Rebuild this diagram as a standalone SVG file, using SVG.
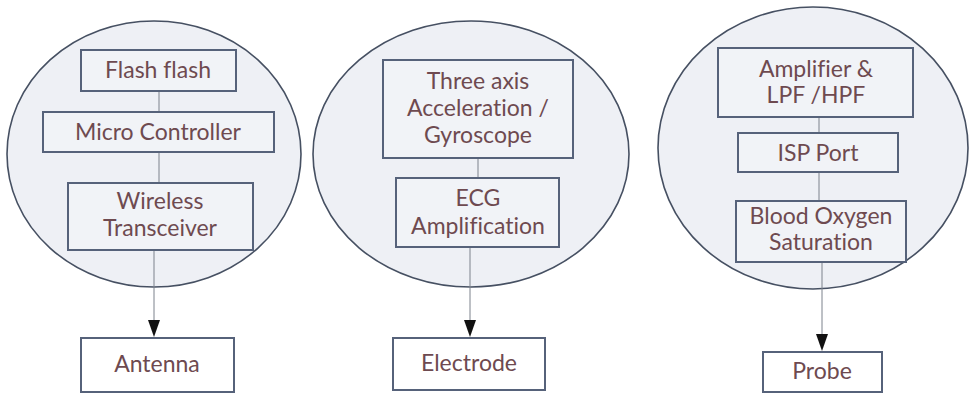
<svg xmlns="http://www.w3.org/2000/svg" width="973" height="395" viewBox="0 0 973 395">
  <style>
    .zone { fill: #eef0f5; stroke: #465062; stroke-width: 1.6; }
    .box { fill: #f1f3f7; stroke: #56627a; stroke-width: 2; }
    .out { fill: #ffffff; stroke: #56627a; stroke-width: 2; }
    .lbl { font-family: Lato, "Open Sans", "Liberation Sans", sans-serif; font-size: 23px; fill: #6e4a50; text-anchor: middle; font-variant-ligatures: none; }
    .link { stroke: #7d828c; stroke-width: 1; fill: none; }
    .head { fill: #111111; }
  </style>

  <rect x="0" y="0" width="973" height="395" fill="#ffffff"/>

  <!-- enclosing module outlines -->
  <ellipse id="module-comm" class="zone" cx="154" cy="154" rx="147" ry="133"/>
  <ellipse id="module-motion" class="zone" cx="471" cy="154" rx="158" ry="133"/>
  <ellipse id="module-oxygen" class="zone" cx="813" cy="148" rx="155" ry="141"/>

  <g id="connectors">
    <line class="link" x1="159" y1="91" x2="159" y2="112"/>
    <line class="link" x1="159" y1="152" x2="159" y2="183"/>
    <line class="link" x1="154" y1="250" x2="154" y2="320"/>
    <path class="head" d="M148,320 L160,320 L154,337 Z"/>
    <line class="link" x1="478" y1="158" x2="478" y2="178"/>
    <line class="link" x1="470" y1="247" x2="470" y2="320"/>
    <path class="head" d="M464,320 L476,320 L470,337 Z"/>
    <line class="link" x1="819" y1="117" x2="819" y2="133"/>
    <line class="link" x1="819" y1="172" x2="819" y2="201"/>
    <line class="link" x1="822" y1="262" x2="822" y2="334"/>
    <path class="head" d="M816,334 L828,334 L822,351 Z"/>
  </g>

  <g id="flash">
    <rect class="box" x="81" y="50" width="155" height="41"/>
    <text class="lbl" x="158" y="78">Flash flash</text>
  </g>
  <g id="micro-controller">
    <rect class="box" x="43" y="112" width="231" height="40"/>
    <text class="lbl" x="158" y="140">Micro Controller</text>
  </g>
  <g id="wireless-transceiver">
    <rect class="box" x="68" y="183" width="185" height="67"/>
    <text class="lbl" x="160" y="209">Wireless</text>
    <text class="lbl" x="160" y="236">Transceiver</text>
  </g>
  <g id="antenna">
    <rect class="out" x="81" y="338" width="153" height="54"/>
    <text class="lbl" x="157" y="372">Antenna</text>
  </g>

  <g id="three-axis">
    <rect class="box" x="383" y="60" width="190" height="98"/>
    <text class="lbl" x="478" y="89">Three axis</text>
    <text class="lbl" x="478" y="116">Acceleration /</text>
    <text class="lbl" x="478" y="143">Gyroscope</text>
  </g>
  <g id="ecg-amplification">
    <rect class="box" x="396" y="178" width="163" height="69"/>
    <text class="lbl" x="478" y="206">ECG</text>
    <text class="lbl" x="478" y="234">Amplification</text>
  </g>
  <g id="electrode">
    <rect class="out" x="393" y="338" width="152" height="52"/>
    <text class="lbl" x="469" y="371">Electrode</text>
  </g>

  <g id="amplifier-filter">
    <rect class="box" x="718" y="48" width="195" height="69"/>
    <text class="lbl" x="816" y="77">Amplifier &amp;</text>
    <text class="lbl" x="816" y="103">LPF /HPF</text>
  </g>
  <g id="isp-port">
    <rect class="box" x="738" y="133" width="160" height="39"/>
    <text class="lbl" x="818" y="161">ISP Port</text>
  </g>
  <g id="blood-oxygen">
    <rect class="box" x="736" y="201" width="170" height="61"/>
    <text class="lbl" x="821" y="224">Blood Oxygen</text>
    <text class="lbl" x="821" y="250">Saturation</text>
  </g>
  <g id="probe">
    <rect class="out" x="763" y="352" width="119" height="40"/>
    <text class="lbl" x="822" y="379">Probe</text>
  </g>
</svg>
